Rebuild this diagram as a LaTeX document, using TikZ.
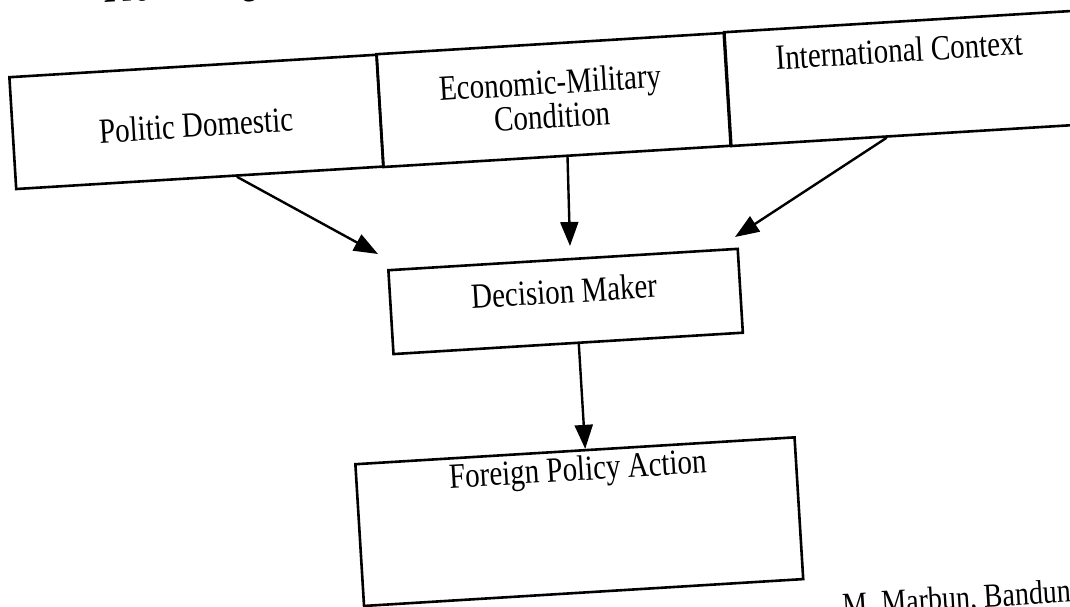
\documentclass[tikz,border=0pt]{standalone}
\usepackage{fontspec}
\setmainfont{Liberation Serif}
\usetikzlibrary{arrows.meta,calc}
\begin{document}
\begin{tikzpicture}[x=1pt,y=-1pt,
  box/.style={draw=black, line width=2.6pt, rectangle, inner sep=0pt, anchor=north west, rotate=3.5},
  lbl/.style={font=\fontsize{29}{28}\selectfont, rotate=3.5, yscale=1.22, inner sep=0pt, align=center},
  arr/.style={draw=black, line width=2.4pt, -{Triangle[length=24pt,width=18pt]}}]
\useasboundingbox (0,0) rectangle (1070,606);
\clip (0,0) rectangle (1070,606);
\fill[white] (0,0) rectangle (1070,606);
% boxes
\node[box, minimum width=368pt, minimum height=112pt] (pd) at (8,76) {};
\node[box, minimum width=348pt, minimum height=113pt] (em) at (375,53) {};
\node[box, minimum width=362pt, minimum height=114pt] (ic) at (723,31) {};
\node[box, minimum width=350pt, minimum height=84pt] (dm) at (387,269) {};
\node[box, minimum width=440pt, minimum height=142pt] (fpa) at (354,463) {};
% labels
\node[lbl] (lpd) at (196,125) {Politic Domestic};
\node[lbl] (lem) at (551,99) {Economic-Military\\Condition};
\node[lbl] (lic) at (899,50) {International Context};
\node[lbl] (ldm) at (564,291) {Decision Maker};
\node[lbl] (lfpa) at (578,472) {Foreign Policy Action};
\node[font=\bfseries\fontsize{30}{34}\selectfont, anchor=base west, rotate=3.5, yscale=1.2, inner sep=0pt] (title) at (104,3) {Proses Pengambilan Keputusan};
\node[font=\fontsize{28}{32}\selectfont, anchor=base west, rotate=3.5, yscale=1.2, inner sep=0pt] (src) at (843,616) {M. Marbun, Bandung};
% arrow ends
\coordinate (t1) at (378,254);
\coordinate (t2) at (570,246);
\coordinate (t3) at (735,237);
\coordinate (s4) at ($(dm.south west)!0.53!(dm.south east)$);
% arrows
\draw[arr] ($(pd.south west)!0.6!(pd.south east)$) -- (t1);
\draw[arr] ($(em.south west)!0.53!(em.south east)$) -- (t2);
\draw[arr] ($(ic.south west)!0.43!(ic.south east)$) -- (t3);
\draw[arr] (s4) -- ($(fpa.north west)!(s4)!(fpa.north east)$);
\end{tikzpicture}
\end{document}
